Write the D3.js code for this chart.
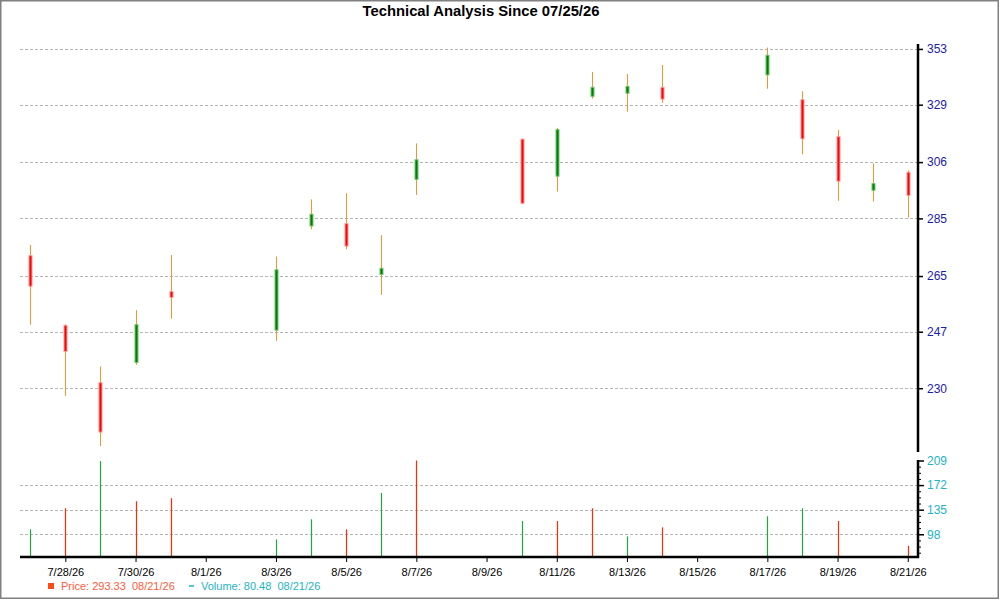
<!DOCTYPE html>
<html lang="en">

<head>
    <meta charset="UTF-8">
    <title>Technical Analysis</title>
    <script src="https://d3js.org/d3.v7.min.js"></script>
    <style>
        body {
            margin: 0;
            background: #fff;
            font-family: Arial, "Liberation Sans", sans-serif;
        }

        svg {
            display: block;
        }

        .grid line {
            stroke: #b4b4b4;
            stroke-dasharray: 3, 2;
            shape-rendering: crispEdges;
        }

        .axis text {
            font-size: 12px;
            font-family: Arial, "Liberation Sans", sans-serif;
        }

        .axis.dates text {
            font-size: 11px;
        }
    </style>
</head>

<body>

    <svg width="1000" height="600"></svg>

    <script>
        // daily candles, weekends skipped
        const days = ["2026-07-27", "2026-07-28", "2026-07-29", "2026-07-30", "2026-07-31",
            "2026-08-03", "2026-08-04", "2026-08-05", "2026-08-06", "2026-08-07",
            "2026-08-10", "2026-08-11", "2026-08-12", "2026-08-13", "2026-08-14",
            "2026-08-17", "2026-08-18", "2026-08-19", "2026-08-20", "2026-08-21"];
        const open = [271.9, 249.0, 231.6, 237.6, 259.9, 247.5, 282.3, 283.1, 265.5, 299.4,
            315.0, 300.6, 332.5, 333.8, 336.3, 341.6, 331.1, 316.0, 295.3, 302.1];
        const high = [275.6, 249.3, 236.4, 253.8, 272.1, 271.6, 291.9, 294.2, 279.0, 313.3,
            315.2, 319.5, 342.9, 342.0, 345.9, 353.6, 334.6, 318.7, 305.5, 302.8];
        const low = [249.2, 227.8, 213.8, 236.9, 251.1, 244.2, 281.1, 274.1, 258.8, 293.6,
            290.3, 294.8, 331.5, 326.1, 329.8, 335.7, 309.0, 291.4, 291.1, 285.2];
        const close = [261.6, 240.9, 217.6, 249.2, 257.9, 267.1, 286.5, 275.2, 267.6, 306.9,
            290.5, 318.8, 336.3, 336.7, 331.3, 350.2, 315.1, 298.7, 297.8, 293.33];
        const volume = [105.4, 137.1, 208.1, 147.7, 152.2, 90.3, 120.5, 105.4, 160.2, 209.0,
            117.9, 117.9, 137.1, 94.8, 108.4, 125.0, 137.1, 117.9, 60.0, 80.48];
        const volumeDir = ["up", "down", "up", "down", "down", "up", "up", "down", "up", "down",
            "up", "down", "down", "up", "down", "up", "up", "down", "up", "down"];

        const priceTicks = [230, 247, 265, 285, 306, 329, 353];
        const volumeTicks = [98, 135, 172, 209];
        const dateTicks = ["2026-07-28", "2026-07-30", "2026-08-01", "2026-08-03", "2026-08-05",
            "2026-08-07", "2026-08-09", "2026-08-11", "2026-08-13", "2026-08-15",
            "2026-08-17", "2026-08-19", "2026-08-21"];

        const titleText = "Technical Analysis Since 07/25/26";
        const lastPrice = "293.33", lastVolume = "80.48", lastDate = "08/21/26";

        const parseDay = d3.timeParse("%Y-%m-%d");
        const fmtTick = d3.timeFormat("%-m/%-d/%y");

        const candles = days.map((d, i) => ({
            date: parseDay(d), o: open[i], h: high[i], l: low[i], c: close[i],
            v: volume[i], dir: volumeDir[i]
        }));

        const svg = d3.select("svg");
        const left = 20, right = 918;

        const x = d3.scaleTime()
            .domain([new Date(2026, 6, 26, 17), new Date(2026, 7, 21, 7)])
            .range([left, right]);

        const yPrice = d3.scaleLog()
            .domain([212.2, 355.2])
            .range([452, 44]);

        const yVol = d3.scaleLinear()
            .domain([63.8, 209])
            .range([557, 460.5])
            .clamp(true);

        // outer frame
        svg.append("rect")
            .attr("x", 0.75).attr("y", 0.75)
            .attr("width", 997.5).attr("height", 597.5)
            .attr("fill", "none")
            .attr("stroke", "#808080")
            .attr("stroke-width", 1.5);

        svg.append("text")
            .attr("x", 481).attr("y", 16)
            .attr("text-anchor", "middle")
            .style("font-size", "14.8px")
            .style("font-weight", "bold")
            .text(titleText);

        // grid lines
        svg.append("g").attr("class", "grid")
            .selectAll("line")
            .data(priceTicks)
            .join("line")
            .attr("x1", left).attr("x2", right)
            .attr("y1", d => Math.round(yPrice(d)) + 0.5)
            .attr("y2", d => Math.round(yPrice(d)) + 0.5);

        svg.append("g").attr("class", "grid")
            .selectAll("line")
            .data(volumeTicks.slice(0, 3))
            .join("line")
            .attr("x1", left).attr("x2", right)
            .attr("y1", d => Math.round(yVol(d)) + 0.5)
            .attr("y2", d => Math.round(yVol(d)) + 0.5);

        // candles
        const cg = svg.append("g")
            .selectAll("g")
            .data(candles)
            .join("g")
            .attr("transform", d => `translate(${Math.round(x(d.date)) + 0.5},0)`);

        cg.append("line")
            .attr("y1", d => yPrice(d.h))
            .attr("y2", d => yPrice(d.l))
            .attr("stroke", "#f2952a")
            .attr("stroke-width", 1);

        cg.append("rect")
            .attr("x", -1.5)
            .attr("width", 3)
            .attr("y", d => yPrice(Math.max(d.o, d.c)))
            .attr("height", d => Math.max(1, yPrice(Math.min(d.o, d.c)) - yPrice(Math.max(d.o, d.c))))
            .attr("fill", d => d.c >= d.o ? "#008000" : "#ff0000")
            .attr("stroke", d => d.c >= d.o ? "#6cc46c" : "#ff9a9a")
            .attr("stroke-width", 1);

        // volume lines
        svg.append("g")
            .selectAll("line")
            .data(candles)
            .join("line")
            .attr("x1", d => Math.round(x(d.date)) + 0.5)
            .attr("x2", d => Math.round(x(d.date)) + 0.5)
            .attr("y1", yVol.range()[0])
            .attr("y2", d => yVol(d.v))
            .attr("stroke", d => d.dir === "up" ? "#1fa83c" : "#ff2a00")
            .attr("stroke-width", 1.2);

        // price axis
        const priceAxis = svg.append("g")
            .attr("class", "axis")
            .attr("transform", `translate(${right},0)`)
            .call(d3.axisRight(yPrice).tickValues(priceTicks).tickSize(5).tickPadding(4).tickFormat(d3.format("d")));
        priceAxis.select(".domain").remove();
        priceAxis.selectAll("text").attr("fill", "#1c1ca6");
        priceAxis.selectAll("line").attr("stroke-width", 1.5);
        svg.append("line")
            .attr("x1", right).attr("x2", right)
            .attr("y1", 44).attr("y2", 452)
            .attr("stroke", "#000").attr("stroke-width", 2.5);

        // volume axis, with minor ticks
        const minorVol = d3.range(98 - 37, 209, 37 / 4).filter(v => v > 63.8 && !volumeTicks.includes(v));
        svg.append("g")
            .attr("transform", `translate(${right},0)`)
            .call(d3.axisRight(yVol).tickValues(minorVol).tickSize(3).tickFormat(""))
            .call(g => g.select(".domain").remove());
        const volAxis = svg.append("g")
            .attr("class", "axis")
            .attr("transform", `translate(${right},0)`)
            .call(d3.axisRight(yVol).tickValues(volumeTicks).tickSize(6).tickPadding(3).tickFormat(d3.format("d")));
        volAxis.select(".domain").remove();
        volAxis.selectAll("text").attr("fill", "#1cb4c4");
        volAxis.selectAll("line").attr("stroke-width", 1.5);
        svg.append("line")
            .attr("x1", right).attr("x2", right)
            .attr("y1", 460).attr("y2", 558)
            .attr("stroke", "#000").attr("stroke-width", 2.5);

        // date axis
        const dateAxis = svg.append("g")
            .attr("class", "axis dates")
            .attr("transform", "translate(0,557)")
            .call(d3.axisBottom(x).tickValues(dateTicks.map(parseDay)).tickSize(5).tickPadding(6).tickFormat(fmtTick));
        dateAxis.select(".domain").remove();
        dateAxis.selectAll("text").attr("fill", "#000");
        svg.append("line")
            .attr("x1", left).attr("x2", right + 1)
            .attr("y1", 557).attr("y2", 557)
            .attr("stroke", "#000").attr("stroke-width", 2.5);

        // legend
        const legend = svg.append("g").style("font-size", "11px");
        legend.append("rect")
            .attr("x", 48).attr("y", 583).attr("width", 6).attr("height", 6)
            .attr("fill", "#ff4a12");
        legend.append("text")
            .attr("x", 61).attr("y", 590)
            .attr("fill", "#ff5a3c")
            .style("white-space", "pre")
            .text(`Price: ${lastPrice}  ${lastDate}`);
        legend.append("line")
            .attr("x1", 189).attr("x2", 194).attr("y1", 586).attr("y2", 586)
            .attr("stroke", "#1cb4c4").attr("stroke-width", 1.5);
        legend.append("text")
            .attr("x", 201).attr("y", 590)
            .attr("fill", "#1cb4c4")
            .style("white-space", "pre")
            .text(`Volume: ${lastVolume}  ${lastDate}`);
    </script>

</body>

</html>
